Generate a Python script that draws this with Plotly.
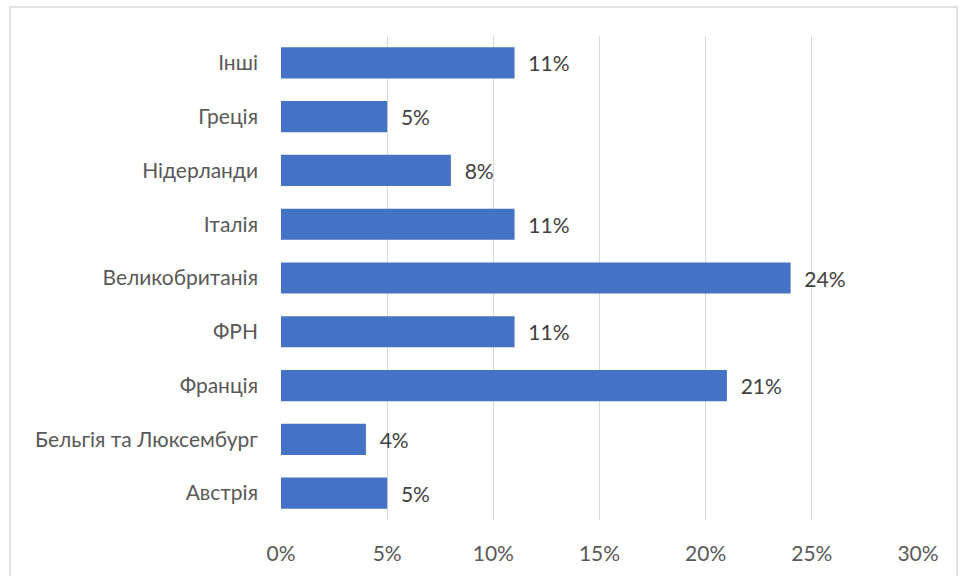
import plotly.graph_objects as go

categories = ["Австрія", "Бельгія та Люксембург", "Франція", "ФРН", "Великобританія",
              "Італія", "Нідерланди", "Греція", "Інші"]
values = [5, 4, 21, 11, 24, 11, 8, 5, 11]
x_ticks = [0, 5, 10, 15, 20, 25, 30]
x_tick_labels = ["0%", "5%", "10%", "15%", "20%", "25%", "30%"]

W, H = 959, 576
ml, mr, mt, mb = 281, 41, 36, 56
pw = W - ml - mr
ph = H - mt - mb
FONT = "Lato, Open Sans, sans-serif"
FS = 21

fig = go.Figure()
fig.add_trace(go.Bar(
    y=categories, x=values, orientation="h",
    marker=dict(color="#4472C4", line=dict(width=0)),
    width=0.58,
    text=["  " + f"{v}%" for v in values],
    textposition="outside",
    textfont=dict(family=FONT, size=FS, color="#404040"),
    cliponaxis=False,
    hoverinfo="skip",
))

fig.update_layout(
    width=W, height=H,
    margin=dict(l=ml, r=mr, t=mt, b=mb),
    paper_bgcolor="white", plot_bgcolor="white",
    showlegend=False,
    font=dict(family=FONT, size=FS, color="#595959"),
    xaxis=dict(
        range=[0, 30], tickvals=x_ticks, ticktext=x_tick_labels,
        showgrid=True, gridcolor="#D9D9D9", gridwidth=1.3,
        zeroline=False, showline=False, ticks="",
        ticklabelstandoff=19,
        tickfont=dict(family=FONT, size=FS, color="#595959"),
    ),
    yaxis=dict(
        showgrid=False, zeroline=False, showline=False, ticks="",
        ticklabelstandoff=22,
        tickfont=dict(family=FONT, size=FS, color="#595959"),
    ),
    shapes=[dict(
        type="rect", xref="paper", yref="paper",
        x0=(10 - ml) / pw, x1=(957 - ml) / pw,
        y0=(H - mb - 590) / ph, y1=(H - mb - 7) / ph,
        line=dict(color="#D9D9D9", width=1.5), fillcolor="rgba(0,0,0,0)", layer="below",
    )],
)

fig.write_html("out.html", config={"displayModeBar": False},
               post_script="document.body.style.margin='0';document.body.style.overflow='hidden';")
